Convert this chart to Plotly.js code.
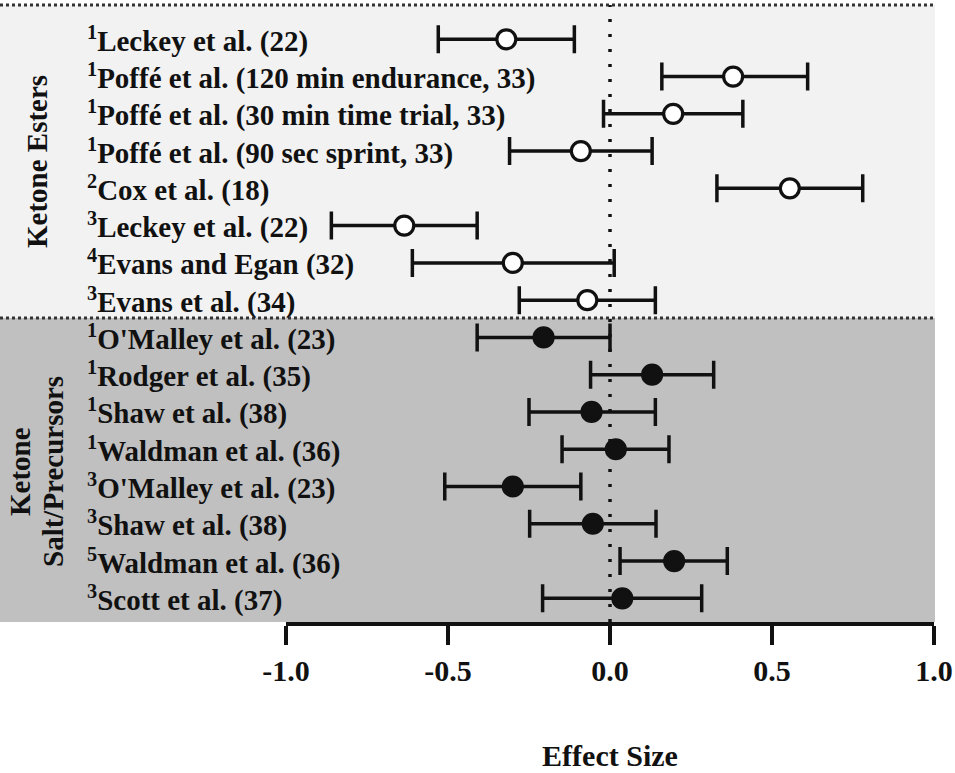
<!DOCTYPE html>
<html>
<head>
<meta charset="utf-8">
<script src="https://cdn.plot.ly/plotly-3.0.1.min.js"></script>
<style>html,body{margin:0;padding:0;background:#fff;}#chart{width:955px;height:773px;}</style>
</head>
<body>
<div id="chart"></div>
<script>
// ---- data ----
const studies = [
  "Leckey et al. (22)",
  "Poffé et al. (120 min endurance, 33)",
  "Poffé et al. (30 min time trial, 33)",
  "Poffé et al. (90 sec sprint, 33)",
  "Cox et al. (18)",
  "Leckey et al. (22)",
  "Evans and Egan (32)",
  "Evans et al. (34)",
  "O'Malley et al. (23)",
  "Rodger et al. (35)",
  "Shaw et al. (38)",
  "Waldman et al. (36)",
  "O'Malley et al. (23)",
  "Shaw et al. (38)",
  "Waldman et al. (36)",
  "Scott et al. (37)"
];
const footnotes = ["1","1","1","1","2","3","4","3","1","1","1","1","3","3","5","3"];
const groups = ["Esters","Esters","Esters","Esters","Esters","Esters","Esters","Esters",
                "Salt","Salt","Salt","Salt","Salt","Salt","Salt","Salt"];
const effect = [-0.32, 0.38, 0.195, -0.09, 0.555, -0.635, -0.30, -0.07,
                -0.205, 0.13, -0.057, 0.018, -0.30, -0.053, 0.198, 0.038];
const ciLow  = [-0.53, 0.16, -0.02, -0.31, 0.33, -0.86, -0.61, -0.28,
                -0.41, -0.06, -0.25, -0.148, -0.51, -0.248, 0.031, -0.208];
const ciHigh = [-0.11, 0.61, 0.41, 0.13, 0.78, -0.41, 0.013, 0.14,
                0.0, 0.32, 0.14, 0.182, -0.09, 0.142, 0.362, 0.283];
const groupTitles = {Esters: "Ketone Esters", Salt1: "Ketone", Salt2: "Salt/Precursors"};
const xTicks = [-1, -0.5, 0, 0.5, 1];
const xTickText = ["-1.0", "-0.5", "0.0", "0.5", "1.0"];

// ---- layout geometry ----
const W = 955, H = 773;
const mL = 286, mR = 21, mT = 5, mB = 151;
const plotW = W - mL - mR, plotH = H - mT - mB;
const yRange = [16.636, 0.08];
const pxX = px => (px - mL) / plotW;        // pixel -> paper x
const pxY = py => 1 - (py - mT) / plotH;    // pixel -> paper y
const rowToPaper = r => 1 - (r - yRange[1]) / (yRange[0] - yRange[1]);

const FONT = "Liberation Serif";
const ink = "#111111";

function makeTrace(g, fill) {
  const idx = groups.map((v, i) => v === g ? i : -1).filter(i => i >= 0);
  return {
    type: "scatter", mode: "markers",
    x: idx.map(i => effect[i]),
    y: idx.map(i => i + 1),
    marker: {symbol: "circle", size: 19, color: fill, line: {color: ink, width: 3.2}},
    error_x: {
      type: "data", symmetric: false,
      array: idx.map(i => ciHigh[i] - effect[i]),
      arrayminus: idx.map(i => effect[i] - ciLow[i]),
      color: ink, thickness: 3.5, width: 14
    },
    hoverinfo: "skip", showlegend: false, cliponaxis: false
  };
}

const traces = [makeTrace("Esters", "#ffffff"), makeTrace("Salt", ink)];

const boundaryRow = 8.478;
const shapes = [
  {type: "rect", xref: "paper", yref: "paper", layer: "below",
   x0: pxX(0), x1: 1.0015, y0: rowToPaper(boundaryRow), y1: 1,
   fillcolor: "#f2f2f2", line: {width: 0}},
  {type: "rect", xref: "paper", yref: "paper", layer: "below",
   x0: pxX(0), x1: 1.0015, y0: 0, y1: rowToPaper(boundaryRow),
   fillcolor: "#c0c0c0", line: {width: 0}},
  {type: "line", xref: "paper", yref: "paper", layer: "above",
   x0: pxX(0), x1: 1.0015, y0: 1, y1: 1,
   line: {color: "#333", width: 3, dash: "dot"}},
  {type: "line", xref: "paper", yref: "paper", layer: "above",
   x0: pxX(0), x1: 1.0015, y0: rowToPaper(boundaryRow), y1: rowToPaper(boundaryRow),
   line: {color: "#333", width: 3, dash: "dot"}},
  {type: "line", xref: "x", yref: "paper", layer: "below",
   x0: 0, x1: 0, y0: 0, y1: 1,
   line: {color: ink, width: 3.5, dash: "3px,12px"}}
];

const labelFont = {family: FONT, size: 29, color: ink, weight: "bold"};
const annotations = studies.map((s, i) => ({
  xref: "paper", yref: "y", x: pxX(85), y: i + 1,
  xanchor: "left", yanchor: "middle", showarrow: false,
  text: "<sup>" + footnotes[i] + "</sup>" + s,
  font: labelFont
}));
annotations.push(
  {xref: "paper", yref: "paper", x: pxX(37), y: pxY(162), textangle: -90,
   xanchor: "center", yanchor: "middle", showarrow: false,
   text: groupTitles.Esters, font: labelFont},
  {xref: "paper", yref: "paper", x: pxX(20), y: pxY(472), textangle: -90,
   xanchor: "center", yanchor: "middle", showarrow: false,
   text: groupTitles.Salt1, font: labelFont},
  {xref: "paper", yref: "paper", x: pxX(53), y: pxY(472), textangle: -90,
   xanchor: "center", yanchor: "middle", showarrow: false,
   text: groupTitles.Salt2, font: labelFont}
);

const layout = {
  width: W, height: H,
  margin: {l: mL, r: mR, t: mT, b: mB, pad: 0},
  paper_bgcolor: "#ffffff", plot_bgcolor: "rgba(0,0,0,0)",
  showlegend: false,
  xaxis: {
    range: [-1, 1], tickvals: xTicks, ticktext: xTickText,
    showgrid: false, zeroline: false,
    showline: true, linecolor: ink, linewidth: 3.5,
    ticks: "outside", ticklen: 19, tickwidth: 3.5, tickcolor: ink,
    tickfont: {family: FONT, size: 30, color: ink, weight: "bold"},
    title: {text: "Effect Size", font: {family: FONT, size: 30, color: ink, weight: "bold"}, standoff: 60},
    fixedrange: true, automargin: false
  },
  yaxis: {
    range: yRange, showgrid: false, zeroline: false, showline: false,
    showticklabels: false, ticks: "", fixedrange: true
  },
  shapes: shapes,
  annotations: annotations,
  font: {family: FONT, color: ink}
};

Plotly.newPlot("chart", traces, layout, {staticPlot: true, displayModeBar: false});
</script>
</body>
</html>
